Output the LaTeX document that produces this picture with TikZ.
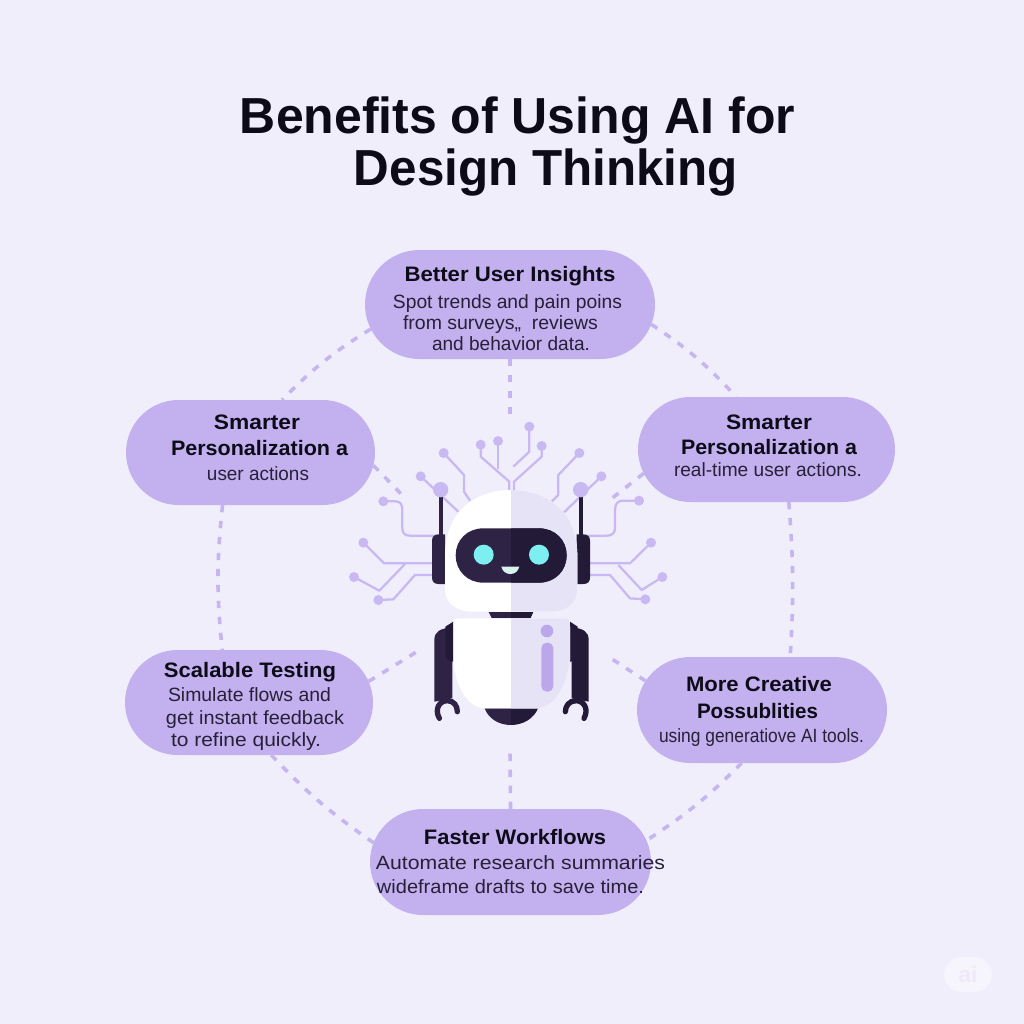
\documentclass[tikz,border=0pt]{standalone}
\usepackage{fontspec}
\usepackage{graphicx}
\setmainfont{Liberation Sans}
\usetikzlibrary{shapes.misc}
\definecolor{bgc}{HTML}{F1EEFB}
\definecolor{pillc}{HTML}{C3B1EF}
\definecolor{dashc}{HTML}{C6B6F0}
\definecolor{wirec}{HTML}{C8B9F2}
\definecolor{chestc}{HTML}{BBA8EA}
\definecolor{darkl}{HTML}{2E2345}
\definecolor{darkr}{HTML}{221A36}
\definecolor{shadec}{HTML}{E6E3F7}
\definecolor{eyec}{HTML}{7EEFF0}
\definecolor{smilec}{HTML}{D7F3EE}
\definecolor{txtb}{HTML}{0E0B18}
\definecolor{txtn}{HTML}{262038}
\definecolor{markc}{HTML}{F6F4FC}
\definecolor{marktxt}{HTML}{EDE9F8}
\tikzset{
  x=0.75pt,y=-0.75pt,
  pill/.style={rounded rectangle,fill=pillc,inner sep=0pt,outer sep=0pt},
  ringdash/.style={draw=dashc,line width=2.7pt,dash pattern=on 5.5pt off 6.5pt},
  wire/.style={draw=wirec,line width=1.7pt,line join=round},
  lbl/.style={anchor=base,inner sep=0pt,outer sep=0pt},
  headfont/.style={font=\fontsize{15.7}{18}\selectfont\bfseries,text=txtb},
  bodyfont/.style={font=\fontsize{14.4}{17}\selectfont,text=txtn},
  titlefont/.style={font=\fontsize{38}{42}\selectfont\bfseries,text=txtb},
}
% name, centre x, baseline y, width in px, style, text
\newcommand{\txtline}[6]{\node[lbl,#5] (#1) at (#2,#3) {\resizebox{\dimexpr #4pt*3/4\relax}{\height}{#6}};}
\newcommand{\pillnode}[5]{\node[pill,minimum width=#4*0.75pt,minimum height=#5*0.75pt] (#1) at (#2,#3) {};}
\newcommand{\headshape}{(513,270) .. controls (420,270) and (315,320) .. (315,470) -- (315,565) .. controls (315,612) and (350,635) .. (400,635) -- (625,635) .. controls (680,635) and (712,612) .. (712,565) -- (712,470) .. controls (712,320) and (605,270) .. (513,270) -- cycle}
\newcommand{\bodyshape}{(355,655) -- (675,655) .. controls (688,655) and (690,665) .. (690,680) -- (690,780) .. controls (680,860) and (640,925) .. (590,925) -- (435,925) .. controls (385,925) and (345,860) .. (340,780) -- (340,670) .. controls (340,660) and (345,655) .. (355,655) -- cycle}
\newcommand{\visorshape}{(430,385) -- (597,385) .. controls (645,385) and (680,420) .. (680,466) .. controls (680,512) and (645,548) .. (597,548) -- (430,548) .. controls (382,548) and (347,512) .. (347,466) .. controls (347,420) and (382,385) .. (430,385) -- cycle}
\begin{document}
\begin{tikzpicture}
\useasboundingbox (0,0) rectangle (1024,1024);
\fill[bgc] (0,0) rectangle (1024,1024);

% pills
\pillnode{top}{510}{304.5}{290}{109}
\pillnode{ul}{250.5}{452.5}{249}{105}
\pillnode{ur}{766.5}{449.5}{257}{105}
\pillnode{ll}{249}{702.5}{248}{105}
\pillnode{lr}{762}{710}{250}{106}
\pillnode{bot}{510.5}{862}{281}{106}

% free ends of the short spokes
\coordinate (ctop) at (510,422);
\coordinate (cul) at (406,499);
\coordinate (cur) at (611,499);
\coordinate (cll) at (418,651);
\coordinate (clr) at (609,657);
\coordinate (cbot) at (510,750);

% outer ring
\draw[ringdash] (top.190) to[bend right=7] (ul.59);
\draw[ringdash] (top.-8) to[bend left=7] (ur.120);
\draw[ringdash] (ul.242) to[bend right=6] (ll.117);
\draw[ringdash] (ur.-67) to[bend left=4] (lr.62);
\draw[ringdash] (ll.-67) to[bend right=6] (bot.172);
\draw[ringdash] (lr.249) to[bend left=6] (bot.9);

% spokes
\draw[ringdash] (top.south) -- (ctop);
\draw[ringdash] (ul.-6) -- (cul);
\draw[ringdash] (ur.191) -- (cur);
\draw[ringdash] (ll.10) -- (cll);
\draw[ringdash] (lr.166) -- (clr);
\draw[ringdash] (bot.north) -- (cbot);

% title
\txtline{ta}{517.5}{133}{555}{titlefont}{Benefits of Using AI for}
\txtline{tb}{546}{185}{384}{titlefont}{Design Thinking}

% pill text
\txtline{a1}{510}{281}{211}{headfont}{Better User Insights}
\txtline{a2}{507.5}{308}{229}{bodyfont}{Spot trends and pain poins}
\txtline{a3}{500.5}{329}{195}{bodyfont}{from surveys„\ \ reviews}
\txtline{a4}{511}{350}{158}{bodyfont}{and behavior data.}

\txtline{b1}{257}{429}{86}{headfont}{Smarter}
\txtline{b2}{259.5}{455}{177}{headfont}{Personalization a}
\txtline{b3}{258}{480}{102}{bodyfont}{user actions}

\txtline{c1}{769}{429}{86}{headfont}{Smarter}
\txtline{c2}{769}{454}{176}{headfont}{Personalization a}
\txtline{c3}{768}{476}{188}{bodyfont}{real-time user actions.}

\txtline{d1}{250}{677}{172}{headfont}{Scalable Testing}
\txtline{d2}{249.5}{701}{163}{bodyfont}{Simulate flows and}
\txtline{d3}{255}{724}{178}{bodyfont}{get instant feedback}
\txtline{d4}{246}{746}{150}{bodyfont}{to refine quickly.}

\txtline{e1}{759}{691}{146}{headfont}{More Creative}
\txtline{e2}{757.5}{718}{121}{headfont}{Possublities}
\txtline{e3}{761.5}{742}{205}{bodyfont}{using generatiove AI tools.}

\txtline{f1}{515}{844}{182}{headfont}{Faster Workflows}
\txtline{f2}{520.5}{869}{289}{bodyfont}{Automate research summaries}
\txtline{f3}{510.5}{893}{267}{bodyfont}{wideframe drafts to save time.}

% robot: inner coordinates are in 1/3 px, origin at (340,400)
\begin{scope}[shift={(340,400)},x=0.25pt,y=-0.25pt]
  % wires
  \draw[wire] (568,80) -- (568,155) -- (520,200);
  \draw[wire] (605,138) -- (605,170) -- (522,245) -- (522,272);
  \draw[wire] (474,123) -- (474,208);
  \draw[wire] (422,134) -- (422,170) -- (508,245) -- (508,272);
  \draw[wire] (311,159) -- (372,225) -- (372,275) -- (390,302);
  \draw[wire] (718,159) -- (655,225) -- (655,285) -- (636,304);
  \draw[wire] (242,229) -- (355,335);
  \draw[wire] (784,229) -- (672,337);
  \draw[wire] (130,304) -- (165,304) .. controls (180,304) and (187,312) .. (187,330) -- (187,385) .. controls (187,400) and (195,407) .. (210,407) -- (285,407);
  \draw[wire] (897,302) -- (848,302) .. controls (833,302) and (825,312) .. (825,330) -- (825,385) .. controls (825,400) and (815,407) .. (800,407) -- (740,407);
  \draw[wire] (70,428) -- (132,490) -- (280,490);
  \draw[wire] (42,531) -- (118,572) -- (195,492);
  \draw[wire] (115,600) -- (160,598) -- (225,525) -- (280,525);
  \draw[wire] (933,428) -- (870,490) -- (745,490);
  \draw[wire] (967,531) -- (905,570) -- (835,495);
  \draw[wire] (916,598) -- (870,595) -- (810,525) -- (745,525);
  \foreach \p in {(568,80),(605,138),(474,123),(422,134),(311,159),(718,159),(242,229),(784,229),(130,304),(897,302),(70,428),(42,531),(115,600),(933,428),(967,531),(916,598)}
    \fill[wirec] \p circle[radius=15];
  % antennas
  \fill[darkl] (296,290) rectangle (308,405);
  \fill[darkr] (716,290) rectangle (728,405);
  \fill[wirec] (302,269) circle[radius=23];
  \fill[wirec] (722,269) circle[radius=23];
  % ears
  \fill[darkl] (315,403) -- (296,403) .. controls (283,403) and (276,410) .. (276,422) -- (276,533) .. controls (276,545) and (283,552) .. (296,552) -- (315,552) -- cycle;
  \fill[darkr] (710,403) -- (730,403) .. controls (743,403) and (750,410) .. (750,422) -- (750,533) .. controls (750,545) and (743,552) .. (730,552) -- (710,552) -- cycle;
  % neck
  \fill[darkl] (446,636) -- (513,636) -- (513,654) -- (455,654) -- cycle;
  \fill[darkr] (513,636) -- (580,636) -- (572,654) -- (513,654) -- cycle;
  % arms
  \fill[darkl] (337,682) .. controls (300,685) and (283,695) .. (283,720) -- (283,905) -- (337,895) -- cycle;
  \fill[darkr] (695,682) .. controls (730,685) and (746,695) .. (746,720) -- (746,905) -- (695,895) -- cycle;
  \draw[darkl,line width=4pt,line cap=round] (298,955) .. controls (282,925) and (300,902) .. (322,902) .. controls (342,902) and (352,918) .. (352,935);
  \draw[darkr,line width=4pt,line cap=round] (732,955) .. controls (748,925) and (730,902) .. (708,902) .. controls (688,902) and (676,918) .. (676,935);
  % shoulders
  \fill[darkr] (340,665) -- (316,680) -- (316,765) .. controls (318,778) and (328,785) .. (340,785) -- cycle;
  \fill[darkr] (690,665) -- (713,680) -- (713,765) .. controls (711,778) and (700,785) .. (690,785) -- cycle;
  % foot
  \fill[darkl] (434,925) -- (513,925) -- (513,975) .. controls (475,975) and (445,955) .. (434,925) -- cycle;
  \fill[darkr] (594,925) -- (513,925) -- (513,975) .. controls (550,975) and (582,955) .. (594,925) -- cycle;
  % head and body, lit left and shaded right
  \fill[white] \headshape;
  \fill[white] \bodyshape;
  \begin{scope}
    \clip (513,200) rectangle (800,1000);
    \fill[shadec] \headshape;
    \fill[shadec] \bodyshape;
  \end{scope}
  % visor
  \fill[darkl] \visorshape;
  \begin{scope}
    \clip (513,300) rectangle (800,600);
    \fill[darkr] \visorshape;
  \end{scope}
  \fill[eyec] (431,464) circle[radius=30];
  \fill[eyec] (597,464) circle[radius=30];
  \fill[smilec] (484,500) -- (538,500) .. controls (534,516) and (522,522) .. (511,522) .. controls (500,522) and (488,516) .. (484,500) -- cycle;
  % chest
  \fill[chestc] (621,693) circle[radius=19];
  \fill[chestc,rounded corners=4pt] (604,728) rectangle (640,875);
\end{scope}

% watermark
\node[rounded rectangle,fill=markc,minimum width=36pt,minimum height=26pt,inner sep=0pt] (mark) at (968,974.5) {};
\node[anchor=center,inner sep=0pt,font=\fontsize{17}{20}\selectfont\bfseries,text=marktxt] (marktext) at (mark.center) {ai};
\end{tikzpicture}
\end{document}
